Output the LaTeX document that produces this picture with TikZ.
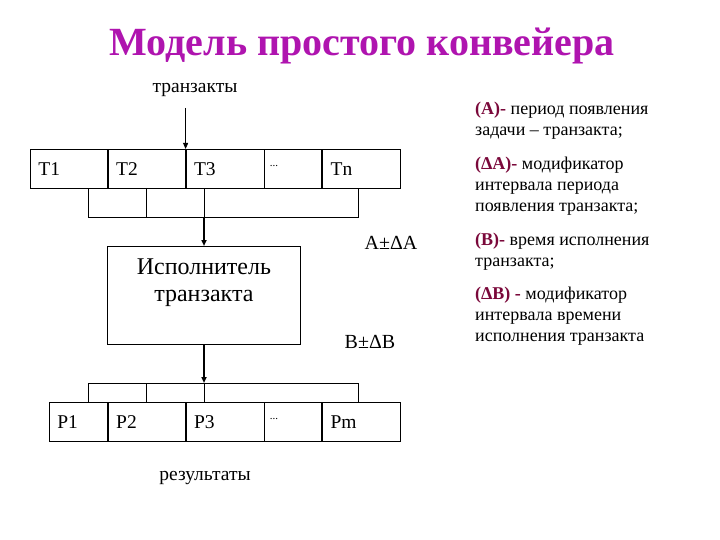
\documentclass[tikz,border=0pt]{standalone}
\usepackage{fontspec}
\setmainfont{Liberation Serif}
\usetikzlibrary{arrows.meta, calc}
\definecolor{ink}{RGB}{0,0,0}
\definecolor{titlec}{RGB}{175,20,175}
\definecolor{mark}{RGB}{122,8,58}
\tikzset{
  cell/.style    ={rectangle, draw=ink, line width=0.8pt, anchor=north west, minimum height=39pt,
                   inner xsep=8pt, inner ysep=0pt, align=left, font=\fontsize{19.5}{22}\selectfont},
  execbox/.style ={rectangle, draw=ink, line width=0.8pt, anchor=north west, minimum width=193pt,
                   minimum height=98pt, inner sep=0pt, align=center, text depth=30pt,
                   font=\fontsize{24}{27}\selectfont},
  wire/.style    ={line width=0.8pt, color=ink},
  inarr/.style   ={-{Triangle[length=6pt, width=5pt]}, line width=0.8pt, color=ink},
  mainarr/.style ={-{Triangle[length=6pt, width=5pt]}, line width=1.8pt, color=ink},
  smalllabel/.style={font=\fontsize{19.5}{22}\selectfont, inner sep=0pt},
  formula/.style ={font=\fontsize{20}{22}\selectfont, inner sep=0pt},
  note/.style    ={anchor=north west, inner sep=0pt, align=left, font=\fontsize{18}{21}\selectfont},
}
\newcommand{\mk}[1]{\textcolor{mark}{\textbf{#1}}}
\newcommand{\celldots}{\raisebox{5pt}{\fontsize{11}{11}\selectfont...}}

\begin{document}
\begin{tikzpicture}[x=1pt, y=-1pt]
\useasboundingbox (0,0) rectangle (720,540);

\node[font=\fontsize{40}{44}\selectfont\bfseries, color=titlec] (title) at (362,46)
  {Модель простого конвейера};

% queue of transacts
\node[smalllabel] (intext) at (195,90) {транзакты};
\node[cell, text width=61pt] (t1) at (30,149) {T1};
\node[cell, text width=61pt] (t2) at (t1.north east) {T2};
\node[cell, text width=62pt] (t3) at (t2.north east) {T3};
\node[cell, text width=41pt, inner xsep=5pt, text width=47pt] (tdots) at (t3.north east) {\celldots};
\node[cell, text width=62pt] (tn) at (tdots.north east) {Tn};

\draw[inarr, shorten <=11pt] (t3.north west |- intext.south) -- (t3.north west);

% collector under the queue
\coordinate (tbl) at (88,217);
\coordinate (tbm) at (204,217);
\coordinate (tbr) at (358,217);
\draw[wire] (tbl |- t1.south) -- (tbl) -- (tbr) -- (tbr |- t1.south);
\draw[wire] (146,188) -- (146,217);
\draw[wire] (tbm |- t1.south) -- (tbm);

% executor
\node[execbox] (exec) at (107,246) {Исполнитель\\транзакта};
\draw[mainarr] (tbm) -- (tbm |- exec.north);

\node[formula] (fa) at (391,243) {A±ΔA};
\node[formula] (fb) at (370,342) {B±ΔB};

% results
\node[cell, text width=42pt] (p1) at (49,402) {P1};
\node[cell, text width=61pt] (p2) at (p1.north east) {P2};
\node[cell, text width=62pt] (p3) at (p2.north east) {P3};
\node[cell, inner xsep=5pt, text width=47pt] (pdots) at (p3.north east) {\celldots};
\node[cell, text width=62pt] (pm) at (pdots.north east) {Pm};

\coordinate (bbl) at (88,383);
\coordinate (bbm) at (204,383);
\coordinate (bbr) at (358,383);
\draw[wire] (bbl |- p1.north) -- (bbl) -- (bbr) -- (bbr |- p1.north);
\draw[wire] (146,383) -- (146,402);
\draw[mainarr] (tbm |- exec.south) -- (bbm);
\draw[wire] (bbm) -- (bbm |- p3.north);

\node[smalllabel] (outtext) at (205,478) {результаты};

% legend
\node[note] (na) at (475,102)
  {\mk{(A)-} период появления\\задачи – транзакта;};
\node[note] (nda) at (475,157)
  {\mk{(ΔA)-} модификатор\\интервала периода\\появления транзакта;};
\node[note] (nb) at (475,233)
  {\mk{(B)-} время исполнения\\транзакта;};
\node[note] (ndb) at (475,287)
  {\mk{(ΔB) -} модификатор\\интервала времени\\исполнения транзакта};
\end{tikzpicture}
\end{document}
